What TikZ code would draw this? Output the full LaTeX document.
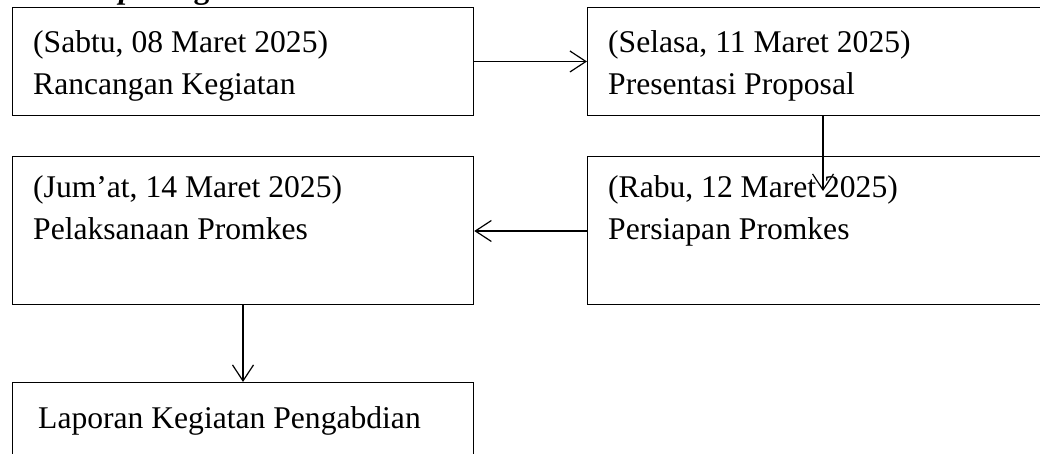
\documentclass[tikz,border=0pt]{standalone}
\usepackage{fontspec}
\setmainfont{Liberation Serif}
\usetikzlibrary{arrows.meta,calc}
\begin{document}
\begin{tikzpicture}[x=1pt,y=-1pt,
  box/.style={draw=black, line width=1.3pt, rectangle, inner sep=0pt, anchor=north west},
  txt/.style={anchor=base west, inner sep=0pt, font=\fontsize{31.6}{40}\selectfont},
  conn/.style={draw=black, line width=1.2pt, -{Straight Barb[length=16pt,width=21pt,line width=1.2pt]}}]
\useasboundingbox (0,0) rectangle (1040,454);
\clip (0,0) rectangle (1040,454);
% title (cut off at top)
\node[txt] (title) at (10,-1.5) {\textbf{\textit{Roadmap}} \textbf{Pengabdian}};
% boxes
\node[box, minimum width=461.5pt, minimum height=108pt] (b1) at (11.5,7) {};
\node[box, minimum width=480pt, minimum height=108pt] (b2) at (587,7) {};
\node[box, minimum width=480pt, minimum height=148pt] (b3) at (587,156) {};
\node[box, minimum width=461.5pt, minimum height=148pt] (b4) at (11.5,156) {};
\node[box, minimum width=461.5pt, minimum height=110pt] (b5) at (11.5,382) {};
% texts
\node[txt] (t1a) at (33,53) {(Sabtu, 08 Maret 2025)};
\node[txt] (t1b) at (33,95) {Rancangan Kegiatan};
\node[txt] (t2a) at (608,53) {(Selasa, 11 Maret 2025)};
\node[txt] (t2b) at (608,95) {Presentasi Proposal};
\node[txt] (t3a) at (608,198) {(Rabu, 12 Maret 2025)};
\node[txt] (t3b) at (608,240) {Persiapan Promkes};
\node[txt] (t4a) at (33,198) {(Jum’at, 14 Maret 2025)};
\node[txt] (t4b) at (33,240) {Pelaksanaan Promkes};
\node[txt] (t5) at (38,428) {Laporan Kegiatan Pengabdian};
% connectors
\coordinate (a2end) at (823,191);
\draw[conn] (b1.east |- 0,61.5) -- (b2.west |- 0,61.5);
\draw[conn] (b2.south -| a2end) -- (a2end);
\draw[conn] (b3.west |- 0,231) -- (b4.east |- 0,231);
\draw[conn] (b4.south -| 243,0) -- (b5.north -| 243,0);
\end{tikzpicture}
\end{document}
